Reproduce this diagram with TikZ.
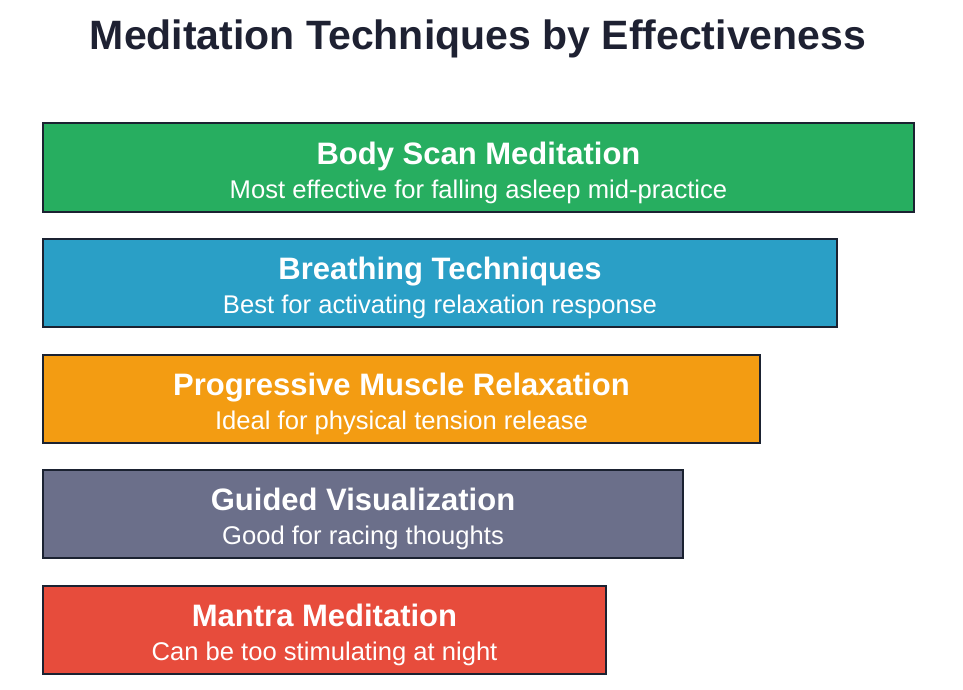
\documentclass[tikz,border=0pt]{standalone}
\usepackage{fontspec}
\setmainfont{Liberation Sans}
\usepackage{tikz}
\usetikzlibrary{positioning}
\definecolor{ink}{HTML}{1E2132}
\definecolor{edge}{HTML}{1B2231}
\definecolor{scangreen}{HTML}{27AE60}
\definecolor{breathblue}{HTML}{2A9FC6}
\definecolor{pmrorange}{HTML}{F39C12}
\definecolor{visgray}{HTML}{6B6F8A}
\definecolor{mantrared}{HTML}{E74C3C}
\newcommand{\bartext}[2]{{\fontsize{31}{34}\selectfont\bfseries\rule{0pt}{33pt}#1}\\{#2}}
\begin{document}
\begin{tikzpicture}[
 x=1pt,y=-1pt,
 node distance=25.5pt,
 bar/.style={draw=edge,line width=2pt,minimum height=88pt,inner sep=0pt,text=white,align=center,
  font=\fontsize{25.6}{34}\selectfont},
]
\useasboundingbox (0,0) rectangle (963,690);
\node[font=\bfseries\fontsize{41}{44}\selectfont,text=ink,anchor=base] (title) at (478,50) {Meditation Techniques by Effectiveness};
\node[bar,fill=scangreen,minimum width=871pt,anchor=north west] (scan) at (42,122.5) {\bartext{Body Scan Meditation}{Most effective for falling asleep mid-practice}};
\node[bar,fill=breathblue,minimum width=794pt,below=of scan.south west,anchor=north west] (breath) {\bartext{Breathing Techniques}{Best for activating relaxation response}};
\node[bar,fill=pmrorange,minimum width=717pt,below=of breath.south west,anchor=north west] (pmr) {\bartext{Progressive Muscle Relaxation}{Ideal for physical tension release}};
\node[bar,fill=visgray,minimum width=640pt,below=of pmr.south west,anchor=north west] (vis) {\bartext{Guided Visualization}{Good for racing thoughts}};
\node[bar,fill=mantrared,minimum width=563pt,below=of vis.south west,anchor=north west] (mantra) {\bartext{Mantra Meditation}{Can be too stimulating at night}};
\end{tikzpicture}
\end{document}
